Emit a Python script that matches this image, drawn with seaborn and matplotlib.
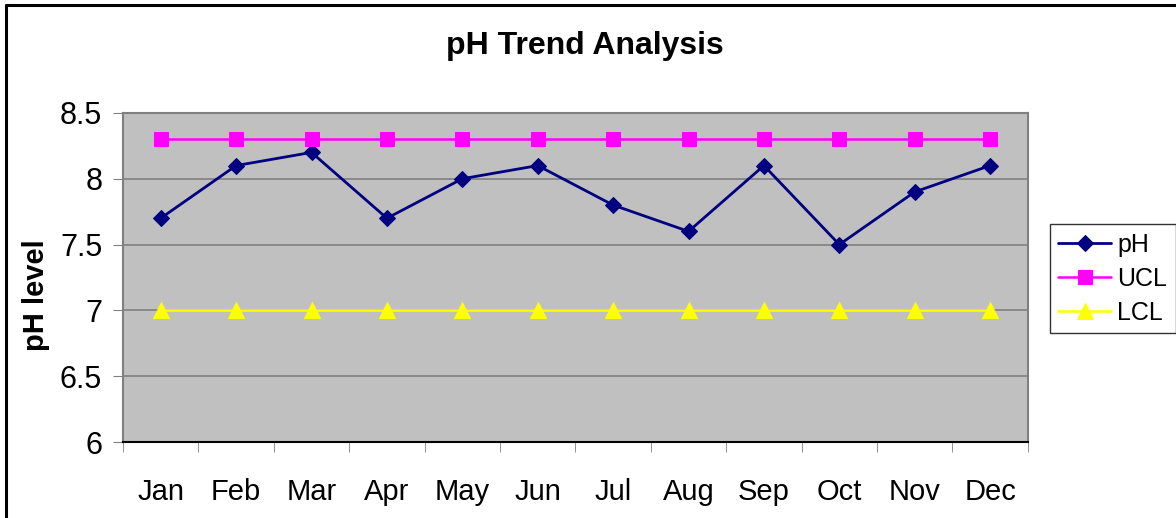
import seaborn as sns
import matplotlib.pyplot as plt
import pandas as pd
from matplotlib.lines import Line2D

months = ['Jan', 'Feb', 'Mar', 'Apr', 'May', 'Jun', 'Jul', 'Aug', 'Sep', 'Oct', 'Nov', 'Dec']
ph = [7.7, 8.1, 8.2, 7.7, 8.0, 8.1, 7.8, 7.6, 8.1, 7.5, 7.9, 8.1]
ucl = [8.3] * 12
lcl = [7.0] * 12

df = pd.DataFrame({'pos': range(len(months)), 'month': months, 'pH': ph, 'UCL': ucl, 'LCL': lcl})

sns.set_style("white")
plt.rcParams['font.family'] = ['Liberation Sans', 'DejaVu Sans']
plt.rcParams['text.color'] = 'black'
plt.rcParams['xtick.color'] = 'black'
plt.rcParams['ytick.color'] = 'black'
plt.rcParams['axes.labelcolor'] = 'black'

fig = plt.figure(figsize=(11.76, 5.18), dpi=100)
ax = fig.add_axes([0.1046, 0.1467, 0.7694, 0.6353])
ax.set_facecolor('#C0C0C0')

# series
sns.lineplot(data=df, x='pos', y='pH', ax=ax, color='#000080', marker='D',
             markersize=8, linewidth=2, markeredgecolor='#000080', label='pH')
sns.lineplot(data=df, x='pos', y='UCL', ax=ax, color='#FF00FF', marker='s',
             markersize=10, linewidth=1.8, markeredgecolor='#FF00FF', label='UCL')
sns.lineplot(data=df, x='pos', y='LCL', ax=ax, color='#FFFF00', marker='^',
             markersize=11, linewidth=1.8, markeredgecolor='#FFFF00', label='LCL')

ax.set_xlim(-0.5, len(months) - 0.5)
ax.set_ylim(6, 8.5)
ax.set_yticks([6, 6.5, 7, 7.5, 8, 8.5])
ax.set_yticklabels(['6', '6.5', '7', '7.5', '8', '8.5'], fontsize=22)
ax.yaxis.grid(True, color='#808080', linewidth=1.2)
ax.set_axisbelow(True)

ax.set_xticks(range(len(months)))
ax.set_xticklabels(months, fontsize=21)
ax.set_xticks([i - 0.5 for i in range(len(months) + 1)], minor=True)
ax.tick_params(axis='x', which='major', length=0, pad=26)
ax.tick_params(axis='x', which='minor', length=7, color='#808080', direction='out', bottom=True)
ax.tick_params(axis='y', length=7, color='#808080', labelcolor='black', direction='out', left=True, pad=8)

for side in ['top', 'right', 'left']:
    ax.spines[side].set_color('#808080')
    ax.spines[side].set_linewidth(1.5)
ax.spines['bottom'].set_color('black')
ax.spines['bottom'].set_linewidth(1.5)

ax.set_xlabel('')
ax.set_ylabel('pH level', fontsize=21, fontweight='bold')
ax.yaxis.set_label_coords(-0.081, 0.447)
fig.text(0.497, 0.912, 'pH Trend Analysis', ha='center', va='center',
         fontsize=23, fontweight='bold')

leg = ax.legend(loc='upper left', bbox_to_anchor=(0.8925, 0.5676),
                bbox_transform=fig.transFigure, fontsize=18, frameon=True,
                fancybox=False, edgecolor='black', handlelength=2.1,
                handletextpad=0.25, borderpad=0.35, labelspacing=0.4,
                borderaxespad=0)
leg.get_frame().set_linewidth(1.0)

# chart border (left and top edges)
fig.add_artist(Line2D([0.0055, 0.0055], [0, 0.99], transform=fig.transFigure, color='black', linewidth=2.2))
fig.add_artist(Line2D([0.0055, 1.0], [0.99, 0.99], transform=fig.transFigure, color='black', linewidth=2.2))

fig.savefig('out.png', dpi=100)
